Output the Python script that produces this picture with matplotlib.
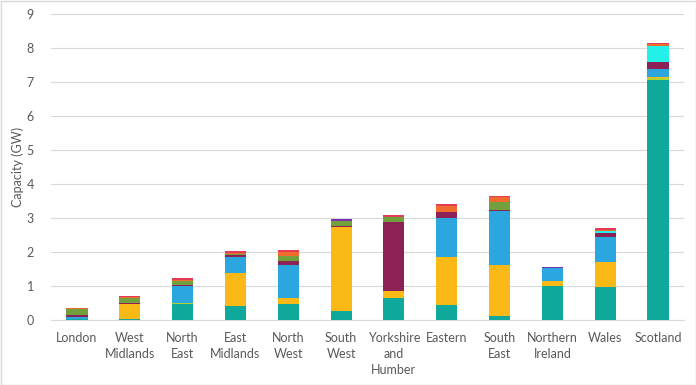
import matplotlib
matplotlib.use("Agg")
import matplotlib.pyplot as plt
from matplotlib.patches import Rectangle
import numpy as np

categories = ["London", "West\nMidlands", "North\nEast", "East\nMidlands", "North\nWest",
              "South\nWest", "Yorkshire\nand\nHumber", "Eastern", "South\nEast",
              "Northern\nIreland", "Wales", "Scotland"]

# stacked series, bottom to top (GW)
teal   = [0.03, 0.02, 0.46, 0.41, 0.46, 0.27, 0.66, 0.44, 0.12, 1.01, 0.96, 7.06]
lime   = [0.00, 0.00, 0.05, 0.00, 0.00, 0.00, 0.00, 0.00, 0.00, 0.00, 0.00, 0.05]
yellow = [0.00, 0.45, 0.00, 0.96, 0.20, 2.47, 0.18, 1.42, 1.50, 0.15, 0.75, 0.05]
blue   = [0.07, 0.00, 0.49, 0.47, 0.96, 0.00, 0.00, 1.15, 1.60, 0.38, 0.74, 0.22]
maroon = [0.05, 0.02, 0.03, 0.06, 0.13, 0.03, 2.04, 0.16, 0.03, 0.00, 0.12, 0.21]
green  = [0.17, 0.17, 0.13, 0.03, 0.14, 0.15, 0.15, 0.02, 0.23, 0.00, 0.00, 0.00]
cyan   = [0.00, 0.00, 0.00, 0.00, 0.00, 0.00, 0.00, 0.00, 0.00, 0.00, 0.05, 0.47]
orange = [0.02, 0.02, 0.03, 0.05, 0.10, 0.00, 0.00, 0.15, 0.13, 0.00, 0.03, 0.07]
red    = [0.01, 0.02, 0.04, 0.05, 0.06, 0.00, 0.05, 0.07, 0.04, 0.00, 0.05, 0.03]
purple = [0.00, 0.00, 0.00, 0.00, 0.00, 0.05, 0.00, 0.00, 0.00, 0.03, 0.00, 0.00]

series = [teal, lime, yellow, blue, maroon, green, cyan, orange, red, purple]
colors = ["#0FA89A", "#B5D334", "#FBB917", "#2BA6DE", "#8B2155", "#72A03C",
          "#23F0E8", "#F26B2E", "#E23D55", "#7A2FB0"]

plt.rcParams['font.family'] = ['Lato', 'DejaVu Sans']
fig = plt.figure(figsize=(6.96, 3.85), dpi=100)
fig.patches.append(Rectangle((0.5/696, 0.5/385), 1 - 1/696, 1 - 1/385,
                             transform=fig.transFigure, fill=False,
                             edgecolor="#D9D9D9", linewidth=1))
ax = fig.add_axes([50.6/696, 1-320/385, (684.4-50.6)/696, (320-14)/385])

x = np.arange(len(categories))
bottom = np.zeros(len(categories))
for vals, c in zip(series, colors):
    v = np.array(vals)
    ax.bar(x, v, bottom=bottom, width=0.4, color=c, zorder=3)
    bottom += v

ax.set_ylim(0, 9)
ax.set_xlim(-0.5, len(categories) - 0.5)
ax.set_yticks(range(0, 10))
ax.set_xticks(x)
ax.set_xticklabels(categories, fontsize=9, color="#595959", linespacing=1.35)
ax.tick_params(axis='both', length=0, labelsize=9, labelcolor="#595959")
ax.tick_params(axis='x', pad=9)
ax.tick_params(axis='y', pad=12)
ax.grid(axis='y', color="#D9D9D9", linewidth=0.8, zorder=0)
for s in ["top", "right", "left"]:
    ax.spines[s].set_visible(False)
ax.spines["bottom"].set_color("#D9D9D9")
ax.set_ylabel("Capacity (GW)", fontsize=9, color="#595959", labelpad=2)

fig.savefig("out.png", dpi=100)
